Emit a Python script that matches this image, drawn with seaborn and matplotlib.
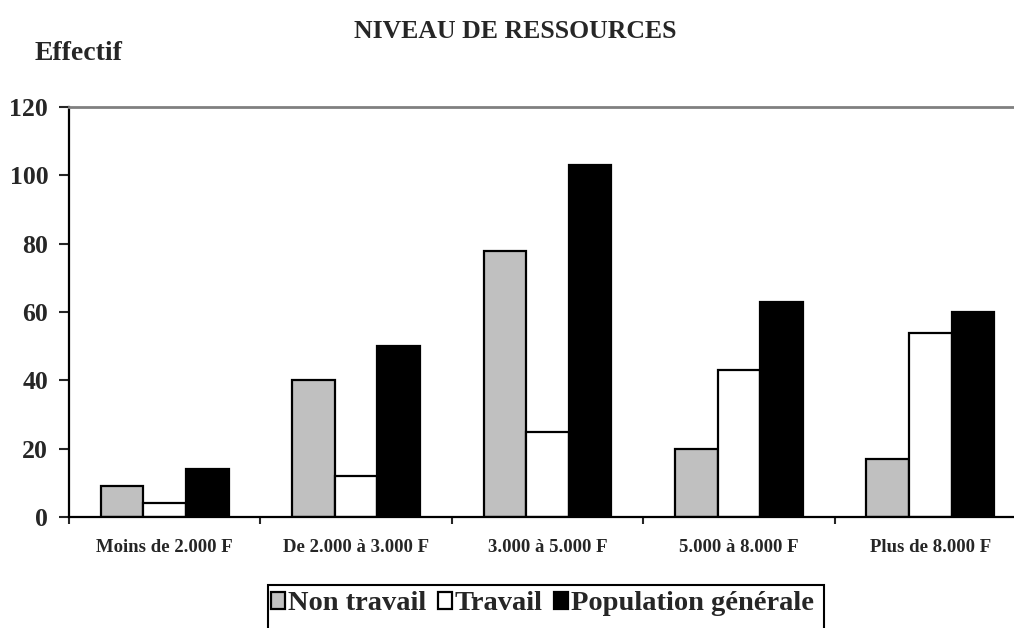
import matplotlib
matplotlib.use("Agg")
import matplotlib.pyplot as plt
import matplotlib.patches as mpatches
import seaborn as sns
import pandas as pd

# données
categories = ["Moins de 2.000 F", "De 2.000 à 3.000 F", "3.000 à 5.000 F",
              "5.000 à 8.000 F", "Plus de 8.000 F"]
series = ["Non travail", "Travail", "Population générale"]
non_travail = [9, 40, 78, 20, 17]
travail = [4, 12, 25, 43, 54]
population = [14, 50, 103, 63, 60]
y_ticks = [0, 20, 40, 60, 80, 100, 120]
colors = ["#c0c0c0", "#ffffff", "#000000"]

df = pd.DataFrame({
    "categorie": categories * 3,
    "serie": [series[0]] * 5 + [series[1]] * 5 + [series[2]] * 5,
    "effectif": non_travail + travail + population,
})

sns.set_style("white")
plt.rcParams["font.family"] = ["Liberation Serif", "DejaVu Serif"]
plt.rcParams["font.weight"] = "bold"

fig = plt.figure(figsize=(10.14, 6.28), dpi=100)
# l'axe dépasse volontairement à droite (image rognée dans l'original)
ax = fig.add_axes([69 / 1014, 111 / 628, (1026 - 69) / 1014, 410 / 628])

sns.barplot(data=df, x="categorie", y="effectif", hue="serie",
            order=categories, hue_order=series, palette=colors,
            width=0.667, gap=0, edgecolor="black", linewidth=1.6,
            saturation=1, ax=ax, legend=True)

ax.set_xlim(-0.5, len(categories) - 0.5)
ax.set_ylim(0, 120)
ax.set_yticks(y_ticks)
ax.set_yticklabels([str(v) for v in y_ticks], fontsize=18.5, fontweight="bold")
ax.tick_params(axis="y", direction="out", length=7, width=1.5, pad=8, left=True)

# libellés au centre, graduations aux limites des catégories
ax.set_xticks(range(len(categories)))
ax.set_xticklabels(categories, fontsize=13.5, fontweight="bold")
ax.tick_params(axis="x", which="major", length=0, pad=16)
ax.set_xticks([i - 0.5 for i in range(len(categories) + 1)], minor=True)
ax.tick_params(axis="x", which="minor", direction="out", length=5, width=1.5, bottom=True)

ax.set_xlabel("")
ax.set_ylabel("")
for side in ["left", "bottom"]:
    ax.spines[side].set_color("black")
    ax.spines[side].set_linewidth(1.6)
ax.spines["top"].set_color("#808080")
ax.spines["top"].set_linewidth(2)
ax.spines["right"].set_color("#808080")
ax.spines["right"].set_linewidth(2)

fig.text(515 / 1014, 1 - 31 / 628, "NIVEAU DE RESSOURCES", ha="center", va="center",
         fontsize=18.5, fontweight="bold")
fig.text(35 / 1014, 1 - 54 / 628, "Effectif", ha="left", va="center",
         fontsize=20, fontweight="bold")

handles, labels = ax.get_legend_handles_labels()
ax.get_legend().remove()
leg = fig.legend(handles, labels, ncol=3, loc="center left",
                 bbox_to_anchor=(268 / 1014, 1 - 604 / 628),
                 prop={"size": 20.5, "weight": "bold"}, frameon=False,
                 handlelength=0.5, handleheight=0.5,
                 handletextpad=0.1, columnspacing=0.4, borderpad=0.1,
                 borderaxespad=0)

# cadre de la légende, coupé par le bas de l'image comme dans l'original
fig.patches.append(mpatches.Rectangle((268 / 1014, -0.05), (824 - 268) / 1014,
                                      0.05 + 43 / 628, transform=fig.transFigure,
                                      fill=False, edgecolor="black", linewidth=1.5))

fig.savefig("out.png", dpi=100)
